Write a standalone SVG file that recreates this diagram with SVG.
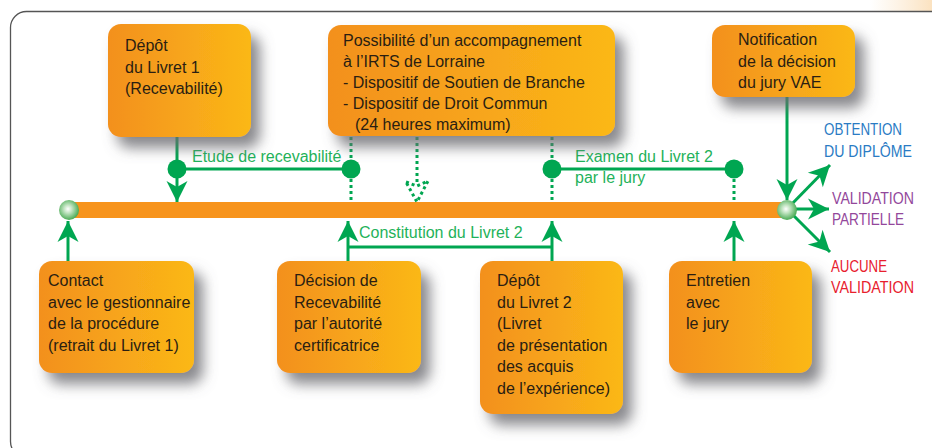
<svg xmlns="http://www.w3.org/2000/svg" width="932" height="448" viewBox="0 0 932 448">
<defs>
<linearGradient id="boxg" x1="0" y1="0" x2="1" y2="0">
<stop offset="0" stop-color="#F3901F"/>
<stop offset="1" stop-color="#FBB817"/>
</linearGradient>
<radialGradient id="ballg" cx="0.45" cy="0.45" r="0.6">
<stop offset="0" stop-color="#ffffff"/>
<stop offset="0.35" stop-color="#bfe3bf"/>
<stop offset="1" stop-color="#3aa346"/>
</radialGradient>
<linearGradient id="peach" x1="0" y1="0" x2="1" y2="0">
<stop offset="0" stop-color="#FBE7CC" stop-opacity="0"/>
<stop offset="1" stop-color="#FBE2C0"/>
</linearGradient>
<filter id="shadow" x="-30%" y="-30%" width="170%" height="180%">
<feGaussianBlur in="SourceAlpha" stdDeviation="7"/>
<feOffset dx="9" dy="11" result="b"/>
<feFlood flood-color="#6b6b70" flood-opacity="0.8"/>
<feComposite in2="b" operator="in"/>
<feMerge><feMergeNode/><feMergeNode in="SourceGraphic"/></feMerge>
</filter>
<marker id="arr" markerUnits="userSpaceOnUse" markerWidth="24" markerHeight="24" viewBox="-22 -12 24 24" refX="0" refY="0" orient="auto">
<path d="M0,0 L-21,-10.5 L-15,0 L-21,10.5 Z" fill="#00A651"/>
</marker>
</defs>
<style>
.box{fill:url(#boxg);filter:url(#shadow);}
.bt{font-family:"Liberation Sans",Arial,sans-serif;font-size:16px;fill:#2a1e12;}
.gl{font-family:"Liberation Sans",Arial,sans-serif;font-size:16px;fill:#1FB25A;}
.rl{font-family:"Liberation Sans",Arial,sans-serif;font-size:16px;}
.ln{stroke:#00A651;stroke-width:3;fill:none;}
.dt{stroke:#00A651;stroke-width:3;fill:none;stroke-dasharray:3 3;}
.dot{fill:#00A651;}
</style>
<rect x="0" y="0" width="932" height="448" fill="#ffffff"/>
<rect x="870" y="0" width="62" height="11" fill="url(#peach)"/>
<rect x="10.5" y="11.5" width="960" height="446" rx="16" fill="none" stroke="#555" stroke-width="1.3"/>

<g id="timeline">
<rect x="68" y="202" width="720" height="16" fill="#F7941D"/>
</g>

<g id="connectors">
<line class="ln" x1="177" y1="137" x2="177" y2="202" marker-end="url(#arr)"/>
<line class="ln" x1="177" y1="169" x2="351" y2="169"/>
<circle class="dot" cx="177" cy="169" r="9.5"/>
<line class="dt" x1="351" y1="137" x2="351" y2="202"/>
<circle class="dot" cx="351" cy="169" r="9.5"/>
<line class="dt" x1="417" y1="137" x2="417" y2="184"/>
<path class="dt" d="M406,182 L417,186 L428,181 L417,202 Z" stroke-width="2.6" stroke-dasharray="2.6 2.6"/>
<line class="dt" x1="552" y1="137" x2="552" y2="202"/>
<line class="ln" x1="552" y1="169" x2="734" y2="169"/>
<circle class="dot" cx="552" cy="169" r="9.5"/>
<circle class="dot" cx="734" cy="169" r="9.5"/>
<line class="dt" x1="734" y1="179" x2="734" y2="200"/>
<line class="ln" x1="68" y1="261" x2="68" y2="221" marker-end="url(#arr)"/>
<line class="ln" x1="348" y1="261" x2="348" y2="221" marker-end="url(#arr)"/>
<line class="ln" x1="552" y1="261" x2="552" y2="221" marker-end="url(#arr)"/>
<line class="ln" x1="348" y1="247" x2="552" y2="247"/>
<line class="ln" x1="734" y1="261" x2="734" y2="221" marker-end="url(#arr)"/>
<line class="ln" x1="787" y1="97" x2="787" y2="200" marker-end="url(#arr)"/>
<line class="ln" x1="787" y1="209" x2="830" y2="165" marker-end="url(#arr)"/>
<line class="ln" x1="787" y1="209" x2="829" y2="209" marker-end="url(#arr)"/>
<line class="ln" x1="787" y1="209" x2="830" y2="252" marker-end="url(#arr)"/>
<text class="gl" x="192" y="162">Etude de recevabilité</text>
<text class="gl" x="575" y="162">Examen du Livret 2</text>
<text class="gl" x="575" y="183">par le jury</text>
<text class="gl" x="359" y="238">Constitution du Livret 2</text>
</g>

<g id="balls">
<circle cx="69" cy="210" r="10" fill="url(#ballg)"/>
<circle cx="787" cy="210" r="10" fill="url(#ballg)"/>
</g>

<g id="outcomes">
<text class="rl" fill="#2A7BC4" x="824" y="135" textLength="78" lengthAdjust="spacingAndGlyphs">OBTENTION</text>
<text class="rl" fill="#2A7BC4" x="824" y="157" textLength="88" lengthAdjust="spacingAndGlyphs">DU DIPLÔME</text>
<text class="rl" fill="#93479B" x="832" y="204" textLength="82" lengthAdjust="spacingAndGlyphs">VALIDATION</text>
<text class="rl" fill="#93479B" x="832" y="225" textLength="72" lengthAdjust="spacingAndGlyphs">PARTIELLE</text>
<text class="rl" fill="#E8202D" x="831" y="272" textLength="56" lengthAdjust="spacingAndGlyphs">AUCUNE</text>
<text class="rl" fill="#E8202D" x="831" y="293" textLength="83" lengthAdjust="spacingAndGlyphs">VALIDATION</text>
</g>

<g id="depot1">
<rect class="box" x="108" y="24" width="143" height="113" rx="13"/>
<text class="bt" x="125" y="51">Dépôt</text>
<text class="bt" x="125" y="72.5">du Livret 1</text>
<text class="bt" x="125" y="94">(Recevabilité)</text>
</g>

<g id="accompagnement">
<rect class="box" x="328" y="25" width="287" height="111" rx="13"/>
<text class="bt" x="343" y="46">Possibilité d’un accompagnement</text>
<text class="bt" x="343" y="67">à l’IRTS de Lorraine</text>
<text class="bt" x="343" y="88">- Dispositif de Soutien de Branche</text>
<text class="bt" x="343" y="109">- Dispositif de Droit Commun</text>
<text class="bt" x="355" y="130">(24 heures maximum)</text>
</g>

<g id="notification">
<rect class="box" x="712" y="25" width="143" height="72" rx="13"/>
<text class="bt" x="738" y="45">Notification</text>
<text class="bt" x="738" y="67">de la décision</text>
<text class="bt" x="738" y="88">du jury VAE</text>
</g>

<g id="contact">
<rect class="box" x="39" y="261" width="155" height="112" rx="13"/>
<text class="bt" x="48" y="286">Contact</text>
<text class="bt" x="48" y="307.5">avec le gestionnaire</text>
<text class="bt" x="48" y="329">de la procédure</text>
<text class="bt" x="48" y="350.5">(retrait du Livret 1)</text>
</g>

<g id="decision">
<rect class="box" x="277" y="261" width="144" height="112" rx="13"/>
<text class="bt" x="294" y="286">Décision de</text>
<text class="bt" x="294" y="307.5">Recevabilité</text>
<text class="bt" x="294" y="329">par l’autorité</text>
<text class="bt" x="294" y="350.5">certificatrice</text>
</g>

<g id="depot2">
<rect class="box" x="480" y="261" width="143" height="153" rx="13"/>
<text class="bt" x="497" y="286">Dépôt</text>
<text class="bt" x="497" y="307.5">du Livret 2</text>
<text class="bt" x="497" y="329">(Livret</text>
<text class="bt" x="497" y="350.5">de présentation</text>
<text class="bt" x="497" y="372">des acquis</text>
<text class="bt" x="497" y="393.5">de l’expérience)</text>
</g>

<g id="entretien">
<rect class="box" x="669" y="261" width="143" height="112" rx="13"/>
<text class="bt" x="686" y="286">Entretien</text>
<text class="bt" x="686" y="307.5">avec</text>
<text class="bt" x="686" y="329">le jury</text>
</g>
</svg>
